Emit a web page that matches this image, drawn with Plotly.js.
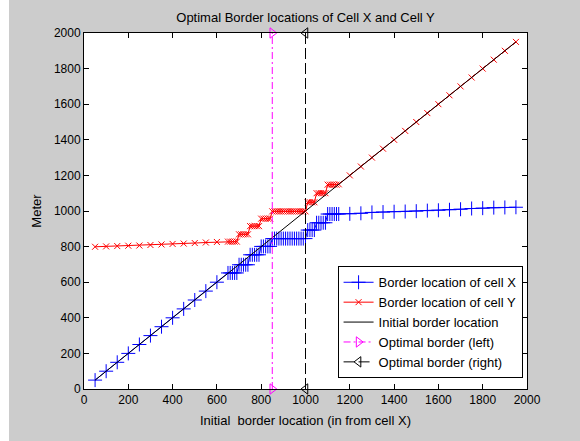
<!DOCTYPE html>
<html>
<head>
<meta charset="utf-8">
<script src="https://cdn.plot.ly/plotly-3.0.1.min.js"></script>
<style>
html,body{margin:0;padding:0;background:#ffffff;width:580px;height:441px;overflow:hidden;}
#chart{position:absolute;left:9px;top:0px;width:571px;height:441px;}
</style>
</head>
<body>
<div id="chart"></div>
<script>
// Initial border location (x positions of samples)
const xBorder = [50,100,150,200,250,300,350,400,450,500,550,600,
  650,660,670,680,690,700,710,720,730,740,750,760,770,780,790,
  800,810,820,830,840,850,860,870,880,890,900,910,920,930,940,
  950,960,970,980,990,1000,1010,1020,1030,1040,1050,1060,1070,1080,1090,
  1100,1110,1120,1130,1140,1150,
  1200,1250,1300,1350,1400,1450,1500,1550,1600,1650,1700,1750,1800,1850,1900,1950];

// Border location of cell X
const cellX = [50,100,150,200,250,300,350,400,450,500,550,600,
  652,652,652,652,652,698,698,698,698,698,754,754,754,754,754,
  801,801,801,801,801,845,845,845,845,845,845,845,845,845,845,
  845,845,845,845,845,845,893,893,893,893,934,934,934,934,934,
  983,983,983,983,983,983,
  984,987,992,994,996,997,999,1002,1004,1007,1010,1014,1016,1019,1020,1021];

// Border location of cell Y
const cellY = [799,801,803,805,806,809,812,815,817,820,823,826,
  828,828,828,828,828,869,869,869,869,869,915,915,915,915,915,
  957,957,957,957,957,998,998,998,998,998,998,998,998,998,998,
  998,998,998,998,998,998,1049,1049,1049,1049,1100,1100,1100,1100,1100,
  1148,1148,1148,1148,1148,1150,
  1200,1250,1300,1350,1400,1450,1500,1550,1600,1650,1700,1750,1800,1850,1900,1950];

// Initial border location line
const initX = [50,1950];
const initY = [50,1950];

// Optimal borders
const leftX = [850,850];
const rightX = [1000,1000];
const optY = [0,2000];

const xTicks = [0,200,400,600,800,1000,1200,1400,1600,1800,2000];
const yTicks = [0,200,400,600,800,1000,1200,1400,1600,1800,2000];

const FONT = 'Liberation Sans, Arial, sans-serif';

const traces = [
  {x: xBorder, y: cellX, name: 'Border location of cell X', mode: 'lines+markers',
   line: {color: '#0000ff', width: 1},
   marker: {symbol: 'cross-thin-open', size: 10, color: '#0000ff', line: {color: '#0000ff', width: 1}}},
  {x: xBorder, y: cellY, name: 'Border location of cell Y', mode: 'lines+markers',
   line: {color: '#ff0000', width: 1},
   marker: {symbol: 'x-thin-open', size: 6, color: '#ff0000', line: {color: '#ff0000', width: 1}}},
  {x: initX, y: initY, name: 'Initial border location', mode: 'lines',
   line: {color: '#000000', width: 1}},
  {x: leftX, y: optY, name: 'Optimal border (left)', mode: 'lines+markers', cliponaxis: false,
   line: {color: '#ff00ff', width: 1, dash: '7px,3px,2px,3px'},
   marker: {symbol: 'triangle-right-open', size: 9, color: '#ff00ff', line: {color: '#ff00ff', width: 1}}},
  {x: rightX, y: optY, name: 'Optimal border (right)', mode: 'lines+markers', cliponaxis: false,
   line: {color: '#000000', width: 1, dash: '11px,4px'},
   marker: {symbol: 'triangle-left-open', size: 9, color: '#000000', line: {color: '#000000', width: 1}}}
];

const axisCommon = {
  showline: true, linecolor: '#000000', linewidth: 1, mirror: 'ticks',
  ticks: 'inside', ticklen: 5, tickcolor: '#000000', tickwidth: 1,
  showgrid: false, zeroline: false, automargin: false,
  tickfont: {family: FONT, size: 12, color: '#000000'}
};

const layout = {
  width: 571, height: 441,
  margin: {l: 75, r: 53, t: 33, b: 52, pad: 0},
  paper_bgcolor: '#cccccc', plot_bgcolor: '#ffffff',
  font: {family: FONT, size: 12, color: '#000000'},
  title: {text: 'Optimal Border locations of Cell X and Cell Y', font: {family: FONT, size: 13, color: '#000000'},
          xref: 'paper', x: 0.5, xanchor: 'center', yref: 'container', y: 0.96, yanchor: 'middle'},
  xaxis: Object.assign({}, axisCommon, {
    range: [0, 2000], tickvals: xTicks, ticktext: xTicks.map(String),
    title: {text: 'Initial  border location (in from cell X)', font: {family: FONT, size: 13, color: '#000000'}, standoff: 9}
  }),
  yaxis: Object.assign({}, axisCommon, {
    range: [0, 2000], tickvals: yTicks, ticktext: yTicks.map(String),
    title: {text: 'Meter', font: {family: FONT, size: 13, color: '#000000'}, standoff: 9}
  }),
  showlegend: true,
  legend: {x: 0.99, xanchor: 'right', y: 0.03, yanchor: 'bottom',
           bgcolor: '#ffffff', bordercolor: '#000000', borderwidth: 1,
           font: {family: FONT, size: 13, color: '#000000'}, tracegroupgap: 0},
  hovermode: false
};

Plotly.newPlot('chart', traces, layout, {displayModeBar: false, staticPlot: true});
</script>
</body>
</html>
